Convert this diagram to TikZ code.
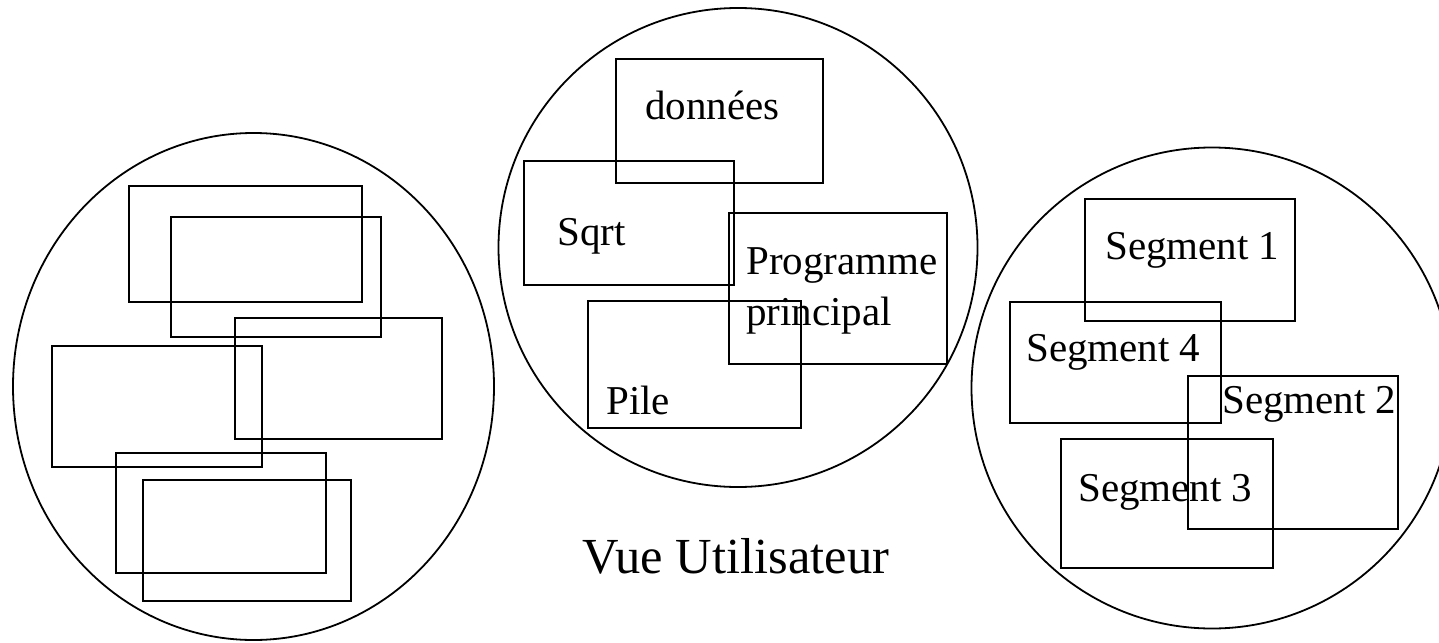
\documentclass[tikz,border=0pt]{standalone}
\usepackage{fontspec}
\setmainfont{Liberation Serif}
\usetikzlibrary{fit,shapes.geometric}

\tikzset{
  seg/.style={draw=black, line width=2.4pt, inner sep=0pt, rectangle},
  space/.style={draw=black, line width=1.8pt, inner sep=0pt},
  lbl/.style={anchor=base west, inner sep=0pt, font=\fontsize{41}{51}\selectfont},
  caption/.style={anchor=base west, inner sep=0pt, font=\fontsize{50.5}{60}\selectfont}
}

\begin{document}
\begin{tikzpicture}[x=1pt, y=-1pt]
  \useasboundingbox (0,0) rectangle (1439,642);
  \clip (0,0) rectangle (1439,642);

  % physical memory: scattered blocks
  \node[space, ellipse, minimum width=481pt, minimum height=507pt] (phys) at (253.5,386.5) {};
  \node[seg, fit={(129,186) (362,302)}] (p1) {};
  \node[seg, fit={(171,217) (381,337)}] (p2) {};
  \node[seg, fit={(235,318) (442,439)}] (p3) {};
  \node[seg, fit={(52,346) (262,467)}] (p4) {};
  \node[seg, fit={(116,453) (326,573)}] (p5) {};
  \node[seg, fit={(143,480) (351,601)}] (p6) {};

  % user view
  \node[space, circle, minimum size=479pt] (user) at (738,247.5) {};
  \node[seg, fit={(616,59) (823,183)}] (data) {};
  \node[seg, fit={(524,161) (734,285)}] (sqrt) {};
  \node[seg, fit={(729,213) (947,364)}] (main) {};
  \node[seg, fit={(588,301) (801,428)}] (stack) {};
  \node[lbl] (tdata) at (645,119) {données};
  \node[lbl] (tsqrt) at (557,245) {Sqrt};
  \node[lbl] (tmain1) at (746,274) {Programme};
  \node[lbl] (tmain2) at (746,325) {principal};
  \node[lbl] (tstack) at (606,414) {Pile};
  \node[caption] (cap) at (582,573) {Vue Utilisateur};

  % segments
  \node[space, circle, minimum size=481pt] (segs) at (1212,388) {};
  \node[seg, fit={(1085,199) (1295,321)}] (s1) {};
  \node[seg, fit={(1010,302) (1221,423)}] (s4) {};
  \node[seg, fit={(1188,376) (1398,529)}] (s2) {};
  \node[seg, fit={(1061,439) (1273,568)}] (s3) {};
  \node[lbl] (ts1) at (1105,259) {Segment 1};
  \node[lbl] (ts4) at (1026,361) {Segment 4};
  \node[lbl] (ts2) at (1222,413) {Segment 2};
  \node[lbl] (ts3) at (1078,501) {Segment 3};
\end{tikzpicture}
\end{document}
